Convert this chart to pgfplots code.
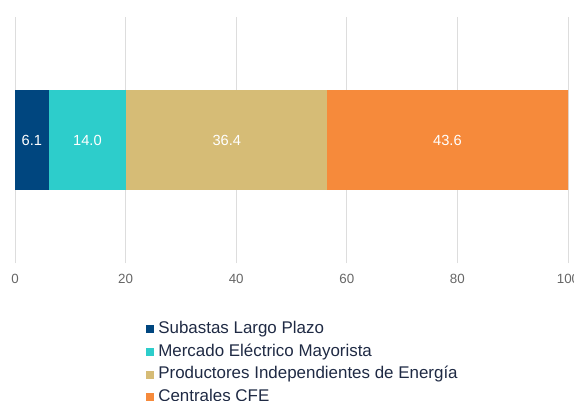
\documentclass[border=0pt]{standalone}
\usepackage{pgfplots}
\pgfplotsset{compat=1.18}
\usepackage{fontspec}
\setmainfont{Liberation Sans}
\definecolor{cSub}{HTML}{00467F}
\definecolor{cMer}{HTML}{2DCDCB}
\definecolor{cPro}{HTML}{D6BC76}
\definecolor{cCen}{HTML}{F68A3B}
\definecolor{gridc}{HTML}{DDDDDD}
\definecolor{tickc}{HTML}{666666}
\definecolor{legc}{HTML}{1F2A44}
\begin{document}
\begin{tikzpicture}
\useasboundingbox (0pt,0pt) rectangle (430.5pt,300pt);
\clip (0pt,0pt) rectangle (430.5pt,300pt);
\begin{pgfinterruptboundingbox}
\begin{axis}[
  at={(11.25pt,102.75pt)}, anchor=south west,
  scale only axis, width=414.75pt, height=184.5pt,
  xbar stacked, bar width=99,
  xmin=0, xmax=100, ymin=0, ymax=246,
  xtick={0,20,40,60,80,100}, ytick=\empty,
  xmajorgrids, major grid style={gridc, line width=0.75pt},
  axis line style={draw=none}, major tick length=0pt,
  xticklabel style={font=\fontsize{10}{12}\selectfont, text=tickc, yshift=-4.5pt},
  /pgf/number format/assume math mode=true,
  legend image code/.code={\fill[#1] (0pt,-3pt) rectangle (6pt,3pt);},
  legend style={at={(axis description cs:0.237,-0.236)}, anchor=north west,
    draw=none, fill=none, inner sep=0pt, font=\fontsize{12.7}{15}\selectfont,
    text=legc, row sep=5.2pt, column sep=3pt,
    nodes={inner sep=0pt, text height=9.2pt, text depth=2.6pt}},
  legend cell align=left,
]
\addplot[fill=cSub, draw=none] coordinates {(6.1,123)};
\addplot[fill=cMer, draw=none] coordinates {(14.0,123)};
\addplot[fill=cPro, draw=none] coordinates {(36.4,123)};
\addplot[fill=cCen, draw=none] coordinates {(43.6,123)};
\legend{Subastas Largo Plazo, Mercado Eléctrico Mayorista, Productores Independientes de Energía, Centrales CFE}
\end{axis}
\begin{axis}[
  at={(11.25pt,102.75pt)}, anchor=south west,
  scale only axis, width=414.75pt, height=184.5pt,
  xmin=0, xmax=100, ymin=0, ymax=246, hide axis,
]
\addplot[only marks, mark=none, nodes near coords, point meta=explicit symbolic,
  every node near coord/.style={anchor=center, text=white, font=\fontsize{11}{13}\selectfont}]
  table[meta=label] {
x y label
3.05 123 6.1
13.1 123 14.0
38.3 123 36.4
78.2 123 43.6
};
\end{axis}
\end{pgfinterruptboundingbox}
\end{tikzpicture}
\end{document}
